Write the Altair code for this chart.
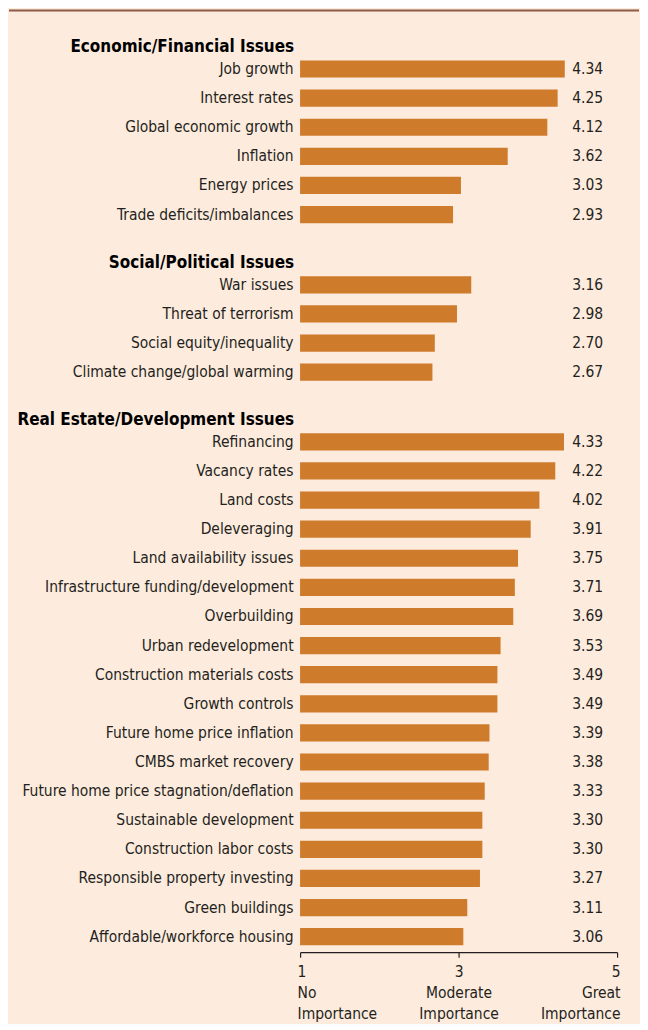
import altair as alt
import pandas as pd

FONT = "Liberation Sans Narrow, DejaVu Sans Condensed, Roboto, sans-serif"
BAR = "#CF7B2C"
BG = "#FDEBDD"
TXT = "#231F20"

econ_items = ["Job growth", "Interest rates", "Global economic growth", "Inflation",
              "Energy prices", "Trade deficits/imbalances"]
econ_vals = [4.34, 4.25, 4.12, 3.62, 3.03, 2.93]

social_items = ["War issues", "Threat of terrorism", "Social equity/inequality",
                "Climate change/global warming"]
social_vals = [3.16, 2.98, 2.70, 2.67]

re_items = ["Refinancing", "Vacancy rates", "Land costs", "Deleveraging",
            "Land availability issues", "Infrastructure funding/development",
            "Overbuilding", "Urban redevelopment", "Construction materials costs",
            "Growth controls", "Future home price inflation", "CMBS market recovery",
            "Future home price stagnation/deflation", "Sustainable development",
            "Construction labor costs", "Responsible property investing",
            "Green buildings", "Affordable/workforce housing"]
re_vals = [4.33, 4.22, 4.02, 3.91, 3.75, 3.71, 3.69, 3.53, 3.49, 3.49, 3.39, 3.38,
           3.33, 3.30, 3.30, 3.27, 3.11, 3.06]

groups = ["Economic/Financial Issues", "Social/Political Issues",
          "Real Estate/Development Issues"]

tick_values = [1, 3, 5]
tick_words = ["No Importance", "Moderate Importance", "Great Importance"]

W = 318
STEP = 29.2
LFS = 15.5


def panel(title, items, vals, bottom=False):
    df = pd.DataFrame({"item": items, "value": vals})
    base = alt.Chart(df)
    if bottom:
        label_expr = ("datum.value == 1 ? ['1', 'No', 'Importance'] : "
                      "datum.value == 3 ? ['3', 'Moderate', 'Importance'] : "
                      "['5', 'Great', 'Importance']")
        xaxis = alt.Axis(values=tick_values, title=None, grid=False,
                         domainColor=TXT, domainWidth=1.2, tickColor=TXT,
                         tickSize=5, tickWidth=1.2, labelFont=FONT,
                         labelFontSize=LFS, labelColor=TXT, labelPadding=7,
                         labelLineHeight=21, labelExpr=label_expr,
                         labelAlign={"condition": [
                             {"test": "datum.value == 1", "value": "left"},
                             {"test": "datum.value == 5", "value": "right"}],
                             "value": "center"},
                         labelOffset={"condition": [
                             {"test": "datum.value == 1", "value": -3},
                             {"test": "datum.value == 5", "value": 3}],
                             "value": 0},
                         labelFlush=False, offset=1)
    else:
        xaxis = None
    y = alt.Y("item:N", sort=items,
              scale=alt.Scale(paddingInner=0.41, paddingOuter=0.205),
              axis=alt.Axis(title=None, domain=False, ticks=False, labelPadding=7,
                            labelFont=FONT, labelFontSize=LFS, labelColor=TXT,
                            labelLimit=400))
    bars = base.mark_bar(color=BAR).encode(
        y=y,
        x=alt.X("value:Q", scale=alt.Scale(domain=[1, 5], nice=False), axis=xaxis),
        x2=alt.datum(1),
    )
    text = base.mark_text(align="right", baseline="middle", font=FONT,
                          fontSize=LFS, color=TXT).encode(
        y=alt.Y("item:N", sort=items),
        x=alt.value(W - 14),
        text=alt.Text("value:Q", format=".2f"),
    )
    return alt.layer(bars, text).properties(
        width=W, height=alt.Step(STEP),
        title=alt.TitleParams(title, anchor="start", align="right", dx=-6, dy=3,
                              offset=1, frame="group", font=FONT, fontSize=17,
                              fontWeight="bold", color="#000000"),
    )


top_rule = alt.Chart(pd.DataFrame({"a": [0]})).mark_rule(
    color="#8C5A46", strokeWidth=2).encode(
    x=alt.value(-292), x2=alt.value(W + 22), y=alt.value(1)
).properties(width=W, height=2)

body = alt.vconcat(
    panel(groups[0], econ_items, econ_vals),
    panel(groups[1], social_items, social_vals),
    panel(groups[2], re_items, re_vals, bottom=True),
    spacing=24.5,
)

chart = alt.vconcat(top_rule, body, spacing=27).properties(
    background=BG,
    padding={"left": 0, "top": 0, "right": 0, "bottom": 0},
).configure_view(stroke=None)

chart.save("out.html", embed_options={"renderer": "svg", "actions": False})
